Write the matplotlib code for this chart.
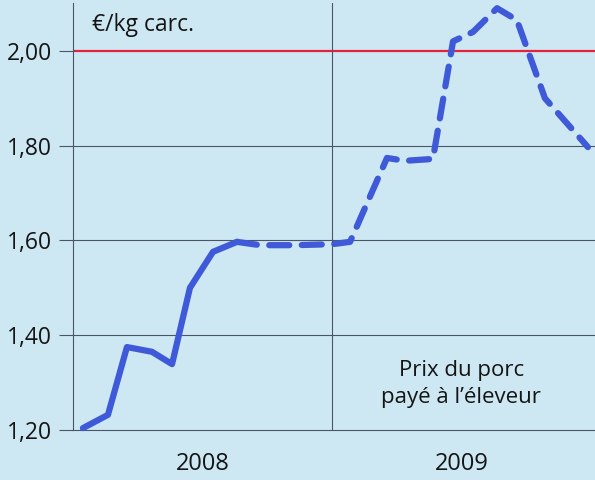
import matplotlib.pyplot as plt

plt.rcParams['font.family'] = ['Open Sans', 'DejaVu Sans']

# Prix du porc payé à l'éleveur (€/kg carcasse), x en mois depuis janvier 2008
mois_plein = [0.46, 1.62, 2.50, 3.66, 4.59, 5.42, 6.49, 7.60]
prix_plein = [1.204, 1.232, 1.375, 1.365, 1.339, 1.50, 1.576, 1.597]

mois_tirets = [7.60, 8.67, 10.29, 12.0, 12.84, 14.55, 15.38, 16.68, 17.61,
               18.54, 19.65, 20.57, 21.87, 23.86]
prix_tirets = [1.597, 1.59, 1.59, 1.592, 1.597, 1.774, 1.768, 1.772, 2.02,
               2.04, 2.09, 2.065, 1.90, 1.797]

yticks = [1.20, 1.40, 1.60, 1.80, 2.00]
annees = ['2008', '2009']
pos_annees = [6, 18]

fond = '#cde8f3'
bleu = '#3f5ad8'
grille = '#4a5566'
texte = '#151515'

fig = plt.figure(figsize=(5.95, 4.8), dpi=100, facecolor=fond)
ax = fig.add_axes([73 / 595, 50 / 480, 1 - 73 / 595, 427 / 480])
ax.set_facecolor(fond)

ax.set_xlim(0, 24.19)
ax.set_ylim(1.20, 2.101)

# grille horizontale et séparation des années
for y in yticks[1:4]:
    ax.axhline(y, color=grille, lw=0.8, zorder=1)
ax.axhline(2.00, color='#e8203a', lw=1.6, zorder=1)
ax.axvline(12, color=grille, lw=0.8, zorder=1)

ax.plot(mois_plein, prix_plein, color=bleu, lw=4.5, solid_capstyle='round',
        solid_joinstyle='round', zorder=3, clip_on=False)
ax.plot(mois_tirets, prix_tirets, color=bleu, lw=4.5, dashes=(3.2, 2.0),
        dash_capstyle='round', zorder=3, clip_on=False)

for s in ['top', 'right']:
    ax.spines[s].set_visible(False)
ax.spines['left'].set_color(grille)
ax.spines['left'].set_linewidth(0.8)
ax.spines['bottom'].set_color(grille)
ax.spines['bottom'].set_linewidth(0.8)

ax.set_yticks(yticks)
ax.set_yticklabels([f'{v:.2f}'.replace('.', ',') for v in yticks])
ax.tick_params(axis='y', length=10, width=0.8, color=grille, pad=5,
               labelsize=16.5, labelcolor=texte)
ax.get_yticklines()[-2].set_color('#e8203a')

ax.set_xticks(pos_annees)
ax.set_xticklabels(annees)
ax.tick_params(axis='x', length=0, pad=16, labelsize=17, labelcolor=texte)

ax.text(0.9, 2.055, '€/kg carc.', fontsize=16.5, color=texte,
        ha='left', va='center')
ax.text(18, 1.297, 'Prix du porc\npayé à l\u2019éleveur', fontsize=16,
        color=texte, ha='center', va='center', linespacing=1.35)

fig.savefig('out.png', dpi=100, facecolor=fond)
